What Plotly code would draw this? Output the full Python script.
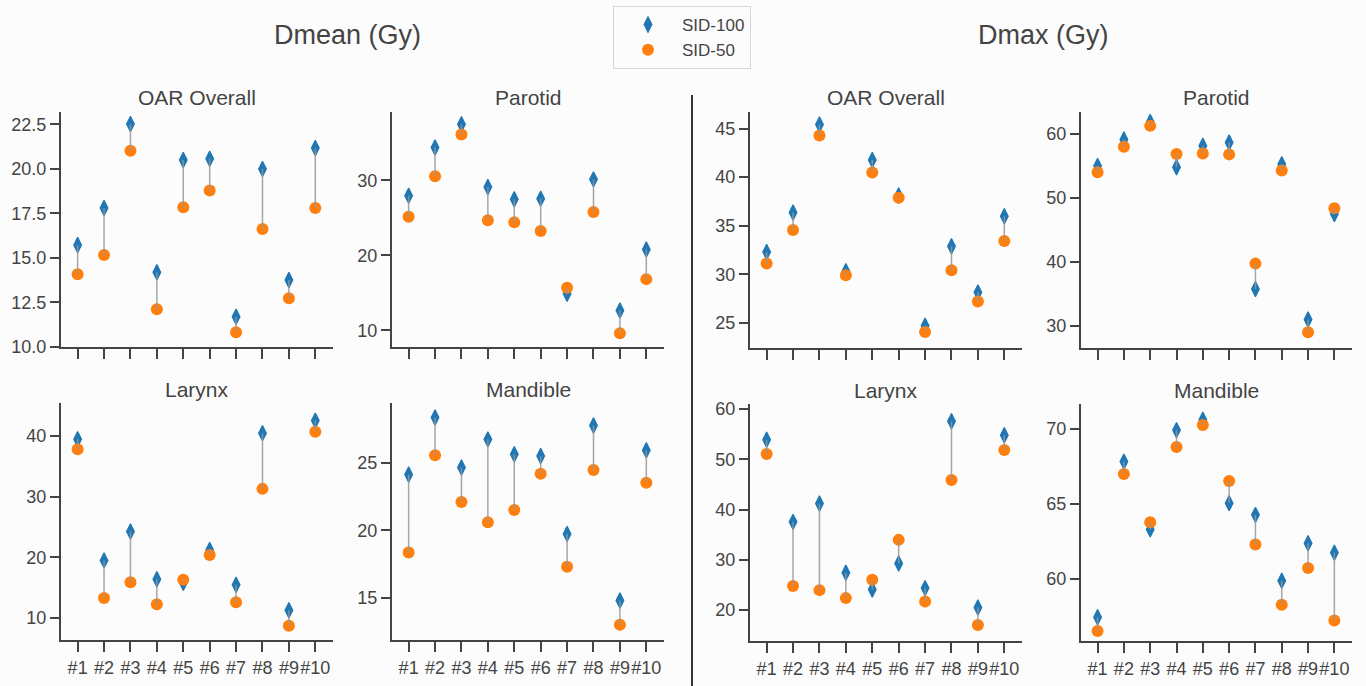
import plotly.graph_objects as go

# Patient labels shared by every panel
patients = ["#1", "#2", "#3", "#4", "#5", "#6", "#7", "#8", "#9", "#10"]

# Mean dose (Gy)
dmean_oar_sid100 = [15.72, 17.80, 22.52, 14.19, 20.50, 20.57, 11.68, 20.00, 13.75, 21.17]
dmean_oar_sid50 = [14.07, 15.16, 21.02, 12.11, 17.84, 18.79, 10.81, 16.62, 12.72, 17.80]
dmean_parotid_sid100 = [27.96, 34.36, 37.47, 29.11, 27.47, 27.56, 14.89, 30.13, 12.67, 20.80]
dmean_parotid_sid50 = [25.16, 30.53, 36.09, 24.67, 24.40, 23.24, 15.69, 25.78, 9.64, 16.84]
dmean_larynx_sid100 = [39.45, 19.50, 24.25, 16.40, 15.80, 21.20, 15.50, 40.44, 11.30, 42.50]
dmean_larynx_sid50 = [37.80, 13.30, 15.90, 12.30, 16.30, 20.40, 12.60, 31.27, 8.76, 40.66]
dmean_mandible_sid100 = [24.14, 28.37, 24.66, 26.75, 25.64, 25.52, 19.73, 27.78, 14.78, 25.94]
dmean_mandible_sid50 = [18.35, 25.57, 22.10, 20.59, 21.50, 24.19, 17.29, 24.48, 12.98, 23.52]

# Maximum dose (Gy)
dmax_oar_sid100 = [32.29, 36.35, 45.41, 30.30, 41.76, 38.10, 24.70, 32.87, 28.13, 35.97]
dmax_oar_sid50 = [31.10, 34.54, 44.28, 29.90, 40.47, 37.88, 24.04, 30.41, 27.18, 33.42]
dmax_parotid_sid100 = [54.95, 59.07, 61.80, 54.74, 58.10, 58.60, 35.77, 55.20, 31.03, 47.47]
dmax_parotid_sid50 = [53.97, 57.94, 61.19, 56.80, 56.90, 56.75, 39.74, 54.23, 29.07, 48.35]
dmax_larynx_sid100 = [53.90, 37.55, 41.19, 27.42, 24.11, 29.27, 24.37, 57.55, 20.53, 54.77]
dmax_larynx_sid50 = [51.06, 24.77, 23.97, 22.38, 26.03, 33.97, 21.72, 45.90, 17.02, 51.85]
dmax_mandible_sid100 = [57.43, 67.81, 63.29, 69.91, 70.60, 65.04, 64.26, 59.87, 62.37, 61.74]
dmax_mandible_sid50 = [56.52, 66.99, 63.77, 68.79, 70.25, 66.52, 62.28, 58.26, 60.71, 57.21]

# Structure names for the panels
structures = ["OAR Overall", "Parotid", "Larynx", "Mandible"]

W, H = 1366, 686
BLUE = "#1f77b4"
ORANGE = "#ff7f0e"
STEM = "rgba(150,150,150,0.85)"
INK = "#444444"
FONT = "Arial"

# (title, sid100, sid50, pixel box [x0, x1, ytop, ybot], y range, y ticks, tick format, bottom row)
panels = [
    (structures[0], dmean_oar_sid100, dmean_oar_sid50, (61, 333, 112, 347), [9.98, 23.2],
     [10.0, 12.5, 15.0, 17.5, 20.0, 22.5], ".1f", False),
    (structures[1], dmean_parotid_sid100, dmean_parotid_sid50, (392, 664, 112, 347), [7.8, 39.1],
     [10, 20, 30], "d", False),
    (structures[0], dmax_oar_sid100, dmax_oar_sid50, (750, 1022, 112, 348), [22.4, 46.7],
     [25, 30, 35, 40, 45], "d", False),
    (structures[1], dmax_parotid_sid100, dmax_parotid_sid50, (1081, 1352, 112, 348), [26.6, 63.35],
     [30, 40, 50, 60], "d", False),
    (structures[2], dmean_larynx_sid100, dmean_larynx_sid50, (61, 333, 403, 640), [6.4, 45.4],
     [10, 20, 30, 40], "d", True),
    (structures[3], dmean_mandible_sid100, dmean_mandible_sid50, (392, 664, 403, 640), [11.85, 29.45],
     [15, 20, 25], "d", True),
    (structures[2], dmax_larynx_sid100, dmax_larynx_sid50, (750, 1022, 404, 641), [13.85, 61.0],
     [20, 30, 40, 50, 60], "d", True),
    (structures[3], dmax_mandible_sid100, dmax_mandible_sid50, (1081, 1352, 404, 641), [55.85, 71.65],
     [60, 65, 70], "d", True),
]

fig = go.Figure()
layout = {}
annotations = []

for i, (title, s100, s50, box, yrange, yticks, yfmt, bottom) in enumerate(panels, start=1):
    x0, x1, ytop, ybot = box
    xa = "x" if i == 1 else f"x{i}"
    ya = "y" if i == 1 else f"y{i}"

    # Markers for both plans
    fig.add_trace(go.Scatter(
        x=patients, y=s100, mode="markers", name="SID-100",
        marker=dict(symbol="diamond-tall", size=11, color=BLUE, line=dict(width=1.2, color=BLUE)),
        showlegend=(i == 1), legendrank=1, xaxis=xa, yaxis=ya, hoverinfo="skip",
    ))
    fig.add_trace(go.Scatter(
        x=patients, y=s50, mode="markers", name="SID-50",
        marker=dict(symbol="circle", size=12, color=ORANGE),
        showlegend=(i == 1), legendrank=2, xaxis=xa, yaxis=ya, hoverinfo="skip",
    ))

    # Connecting stems between the paired values of each patient
    sx, sy = [], []
    for p, a, b in zip(patients, s100, s50):
        sx += [p, p, None]
        sy += [a, b, None]
    fig.add_trace(go.Scatter(
        x=sx, y=sy, mode="lines", line=dict(color=STEM, width=1.5),
        showlegend=False, xaxis=xa, yaxis=ya, hoverinfo="skip",
    ))

    xkey = "xaxis" if i == 1 else f"xaxis{i}"
    ykey = "yaxis" if i == 1 else f"yaxis{i}"
    layout[xkey] = dict(
        domain=[x0 / W, x1 / W], anchor=ya, type="category",
        categoryorder="array", categoryarray=patients, range=[-0.63, 9.67],
        showline=True, linecolor=INK, linewidth=2, showgrid=False, zeroline=False,
        ticks="outside", ticklen=10, tickwidth=1.5, tickcolor=INK,
        showticklabels=bottom, tickangle=0, automargin=False,
        tickfont=dict(family=FONT, size=18, color=INK),
        fixedrange=True,
    )
    layout[ykey] = dict(
        domain=[1 - ybot / H, 1 - ytop / H], anchor=xa, range=yrange,
        tickvals=yticks, tickformat=yfmt, automargin=False,
        showline=True, linecolor=INK, linewidth=2, showgrid=False, zeroline=False,
        ticks="outside", ticklen=9, tickwidth=1.5, tickcolor=INK,
        tickfont=dict(family=FONT, size=18, color=INK), fixedrange=True,
    )
    annotations.append(dict(
        text=title, x=(x0 + x1) / 2 / W, y=1 - (ytop - 14) / H, xref="paper", yref="paper",
        xanchor="center", yanchor="middle", showarrow=False,
        font=dict(family=FONT, size=21, color=INK),
    ))

# Group headings
annotations.append(dict(text="Dmean (Gy)", x=347 / W, y=1 - 35 / H, xref="paper", yref="paper",
                        xanchor="center", yanchor="middle", showarrow=False,
                        font=dict(family=FONT, size=27, color=INK)))
annotations.append(dict(text="Dmax (Gy)", x=1043 / W, y=1 - 35 / H, xref="paper", yref="paper",
                        xanchor="center", yanchor="middle", showarrow=False,
                        font=dict(family=FONT, size=27, color=INK)))

fig.update_layout(
    width=W, height=H,
    margin=dict(l=0, r=0, t=0, b=0),
    paper_bgcolor="#fcfcfc", plot_bgcolor="#fcfcfc",
    annotations=annotations,
    shapes=[dict(type="line", xref="paper", yref="paper",
                 x0=692 / W, x1=692 / W, y0=0, y1=1 - 95 / H,
                 line=dict(color="#333333", width=2))],
    legend=dict(x=613 / W, y=1 - 6 / H, xanchor="left", yanchor="top",
                bgcolor="#fcfcfc", bordercolor="#d6d6d6", borderwidth=1,
                font=dict(family=FONT, size=17, color=INK), itemwidth=58,
                traceorder="normal"),
    **layout,
)

fig.write_html("out.html")
